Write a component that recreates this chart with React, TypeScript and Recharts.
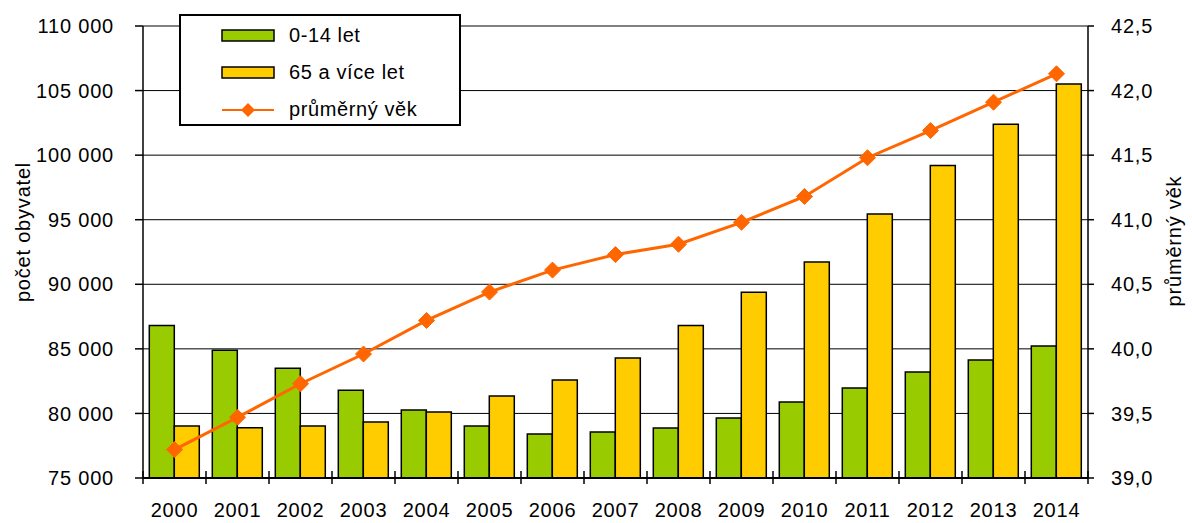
import { ComposedChart, Bar, Line, XAxis, YAxis, CartesianGrid, Legend, ReferenceLine } from 'recharts';

const years = ['2000', '2001', '2002', '2003', '2004', '2005', '2006', '2007', '2008', '2009', '2010', '2011', '2012', '2013', '2014'];
const children = [86800, 84900, 83500, 81800, 80270, 79030, 78400, 78560, 78870, 79650, 80890, 81970, 83210, 84140, 85220];
const seniors = [79030, 78900, 79030, 79340, 80110, 81350, 82590, 84300, 86800, 89380, 91730, 95440, 99190, 102390, 105510];
const avgAge = [39.22, 39.47, 39.73, 39.96, 40.22, 40.44, 40.61, 40.73, 40.81, 40.98, 41.18, 41.48, 41.69, 41.91, 42.13];

const leftTicks = [75000, 80000, 85000, 90000, 95000, 100000, 105000, 110000];
const rightTicks = [39, 39.5, 40, 40.5, 41, 41.5, 42, 42.5];

const data = years.map((year, i) => ({
  year,
  children: children[i],
  seniors: seniors[i],
  avgAge: avgAge[i],
}));

const FONT = '"Liberation Sans", Arial, sans-serif';
const W = 1192;
const H = 523;
const PLOT_LEFT = 143;
const PLOT_RIGHT = 1088;
const PLOT_TOP = 26;
const PLOT_BOTTOM = 478;

const fmtThousands = (v: number) => String(v).replace(/\B(?=(\d{3})+(?!\d))/g, ' ');
const fmtAge = (v: number) => v.toFixed(1).replace('.', ',');

const YearTick = ({ x, y, payload, index }: any) => {
  const step = (PLOT_RIGHT - PLOT_LEFT) / years.length;
  const left = x - step / 2;
  return (
    <g>
      <line x1={left} x2={left} y1={y - 7} y2={y + 6} stroke="#000" strokeWidth={1.5} />
      {index === years.length - 1 && (
        <line x1={x + step / 2} x2={x + step / 2} y1={y - 7} y2={y + 6} stroke="#000" strokeWidth={1.5} />
      )}
      <text x={x} y={y + 39} textAnchor="middle" fontSize={20} fontFamily={FONT} fill="#000" letterSpacing={0.8}>
        {payload.value}
      </text>
    </g>
  );
};

const Diamond = ({ cx, cy }: any) => {
  if (cx == null || cy == null) return null;
  const r = 8;
  return (
    <path d={`M${cx},${cy - r}L${cx + r},${cy}L${cx},${cy + r}L${cx - r},${cy}Z`} fill="#FF6600" stroke="#FF6600" />
  );
};

const AxisTitle = ({ viewBox, text, side }: any) => {
  const vb = viewBox || { x: 0, y: 0, width: 0, height: 0 };
  const x = side === 'left' ? vb.x + 23 : vb.x + vb.width - 18;
  const y = side === 'left' ? 232 : 241;
  return (
    <text
      x={x}
      y={y}
      transform={`rotate(-90, ${x}, ${y})`}
      textAnchor="middle"
      dominantBaseline="central"
      fontSize={20}
      fontFamily={FONT}
      fill="#000"
      letterSpacing={0.8}
    >
      {text}
    </text>
  );
};

const LegendBox = ({ payload }: any) => (
  <div
    style={{
      width: 282,
      height: 112,
      boxSizing: 'border-box',
      border: '2px solid #000',
      background: '#fff',
      paddingTop: 1,
      fontFamily: FONT,
      fontSize: 20,
      letterSpacing: 0.6,
    }}
  >
    {(payload || []).map((entry: any) => (
      <div key={entry.value} style={{ display: 'flex', alignItems: 'center', height: 37 }}>
        <svg width={110} height={20} style={{ marginLeft: 40 }}>
          {entry.type === 'line' ? (
            <g>
              <line x1={1} x2={53} y1={10} y2={10} stroke="#FF6600" strokeWidth={2} />
              <path d="M27,3L34,10L27,17L20,10Z" fill="#FF6600" />
            </g>
          ) : (
            <rect x={1} y={4} width={52} height={11} fill={entry.color} stroke="#000" strokeWidth={1.5} />
          )}
        </svg>
        <span style={{ marginLeft: -42, color: '#000' }}>{entry.value}</span>
      </div>
    ))}
  </div>
);

export default function App() {
  return (
    <div style={{ position: 'absolute', left: 0, top: 0, width: W, height: H, background: '#fff' }}>
      <ComposedChart
        width={W}
        height={H}
        data={data}
        margin={{ top: PLOT_TOP, right: 0, bottom: 0, left: 0 }}
        barCategoryGap="10%"
        barGap={0}
      >
        <CartesianGrid vertical={false} stroke="#000" strokeWidth={1} yAxisId="left" />
        <XAxis
          dataKey="year"
          height={H - PLOT_BOTTOM}
          tick={<YearTick />}
          tickLine={false}
          tickSize={0}
          tickMargin={0}
          axisLine={{ stroke: '#000', strokeWidth: 2 }}
          interval={0}
        />
        <YAxis
          yAxisId="left"
          orientation="left"
          width={PLOT_LEFT}
          domain={[75000, 110000]}
          ticks={leftTicks}
          tickFormatter={fmtThousands}
          tickSize={8}
          tickMargin={21}
          tick={{ fill: '#000', fontSize: 20, fontFamily: FONT, letterSpacing: 0.8 }}
          tickLine={{ stroke: '#000', strokeWidth: 1.5 }}
          axisLine={{ stroke: '#000', strokeWidth: 1.5 }}
          interval={0}
          label={<AxisTitle side="left" text="počet obyvatel" />}
        />
        <YAxis
          yAxisId="right"
          orientation="right"
          width={W - PLOT_RIGHT}
          domain={[39, 42.5]}
          ticks={rightTicks}
          tickFormatter={fmtAge}
          tickSize={6}
          tickMargin={17}
          tick={{ fill: '#000', fontSize: 20, fontFamily: FONT, letterSpacing: 0.8 }}
          tickLine={{ stroke: '#000', strokeWidth: 1.5 }}
          axisLine={{ stroke: '#000', strokeWidth: 1.5 }}
          interval={0}
          label={<AxisTitle side="right" text="průměrný věk" />}
        />
        <ReferenceLine yAxisId="left" y={110000} stroke="#808080" strokeWidth={1.5} />
        <Bar
          yAxisId="left"
          dataKey="children"
          name="0-14 let"
          fill="#99CC00"
          stroke="#000"
          strokeWidth={1.5}
          isAnimationActive={false}
        />
        <Bar
          yAxisId="left"
          dataKey="seniors"
          name="65 a více let"
          fill="#FFCC00"
          stroke="#000"
          strokeWidth={1.5}
          isAnimationActive={false}
        />
        <Line
          yAxisId="right"
          dataKey="avgAge"
          name="průměrný věk"
          type="linear"
          stroke="#FF6600"
          strokeWidth={3}
          dot={<Diamond />}
          activeDot={false}
          legendType="line"
          isAnimationActive={false}
        />
        <Legend
          layout="horizontal"
          verticalAlign="middle"
          align="center"
          content={<LegendBox />}
          wrapperStyle={{ position: 'absolute', left: 179, top: 14, width: 282, height: 112 }}
        />
      </ComposedChart>
    </div>
  );
}
